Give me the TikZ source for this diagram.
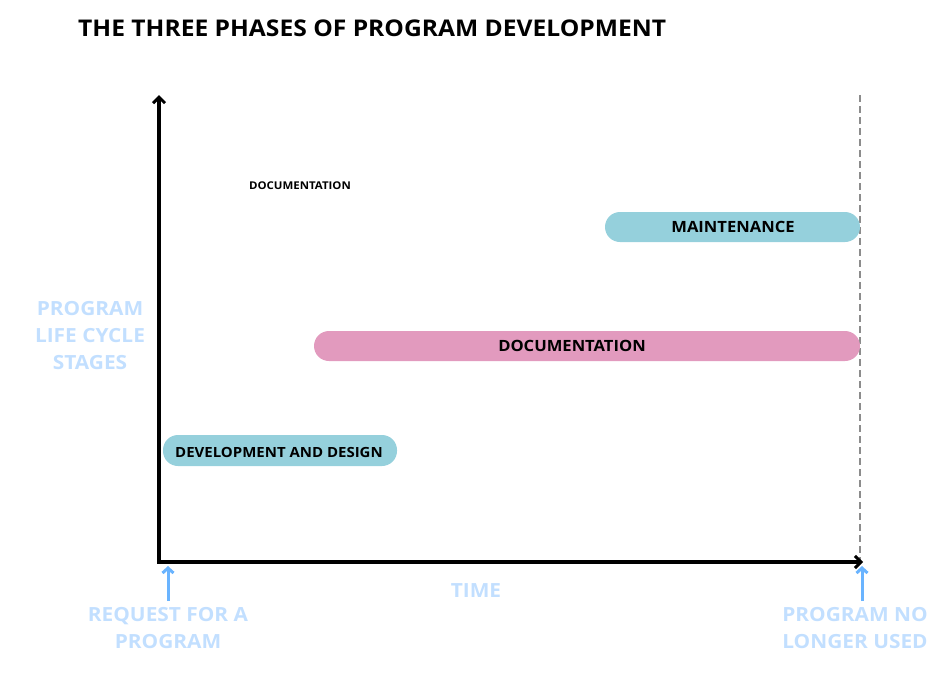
\documentclass[tikz,border=0pt]{standalone}
\usepackage{fontspec}
\setmainfont{Open Sans}[FakeStretch=1.07]
\usetikzlibrary{arrows.meta}
\definecolor{barblue}{HTML}{95D0DC}
\definecolor{barpink}{HTML}{E29ABE}
\definecolor{lblue}{HTML}{C2DFFF}
\definecolor{arrblue}{HTML}{6AB4FF}
\begin{document}
\begin{tikzpicture}[x=1pt,y=-1pt,
  bar/.style={rounded corners=15pt},
  barlabel/.style={font=\bfseries\fontsize{15.5}{18}\selectfont, text=black},
  note/.style={font=\bfseries\fontsize{19.5}{27}\selectfont, text=lblue, align=center},
  axis/.style={line width=3.2pt, -{Straight Barb[length=6pt,width=12pt,line width=3pt]}},
  marker/.style={line width=3pt, arrblue, -{Straight Barb[length=5pt,width=11pt,line width=3pt]}}]
\useasboundingbox (0,0) rectangle (939,681);
\node[font=\bfseries\fontsize{23}{26}\selectfont, anchor=west, inner sep=0pt] (title) at (78,28) {THE THREE PHASES OF PROGRAM DEVELOPMENT};
% dashed end line
\coordinate (dtop) at (860,95);
\coordinate (dbot) at (860,562);
\draw[gray!90, line width=2.2pt, dash pattern=on 7pt off 4pt] (dtop) -- (dbot);
% bars
\fill[barblue, bar] (605,212) rectangle (860,242);
\fill[barpink, bar] (314,331) rectangle (860,361);
\fill[barblue, bar] (163,435) rectangle (397,466);
\node[barlabel] (maint) at (733,227) {MAINTENANCE};
\node[barlabel] (doc) at (572,346) {DOCUMENTATION};
\node[barlabel, font=\bfseries\fontsize{14}{17}\selectfont] (dev) at (279,452) {DEVELOPMENT AND DESIGN};
\node[font=\bfseries\fontsize{10.7}{12}\selectfont] (doc2) at (300,186) {DOCUMENTATION};
% axes
\coordinate (origin) at (159,562);
\coordinate (ytop) at (159,95);
\coordinate (xend) at (863,562);
\draw[axis, line cap=rect] (origin) -- (ytop);
\draw[axis] (157.5,562) -- (xend);
% labels
\node[note] (stages) at (90,336) {PROGRAM\\LIFE CYCLE\\STAGES};
\node[note] (time) at (476,591) {TIME};
\node[note] (req) at (168,628) {REQUEST FOR A\\PROGRAM};
\node[note] (end) at (855,628) {PROGRAM NO\\LONGER USED};
\coordinate (rs) at (168,601);
\coordinate (rt) at (168,566);
\coordinate (es) at (862,601);
\coordinate (et) at (862,566);
\draw[marker] (rs) -- (rt);
\draw[marker] (es) -- (et);
\end{tikzpicture}
\end{document}
